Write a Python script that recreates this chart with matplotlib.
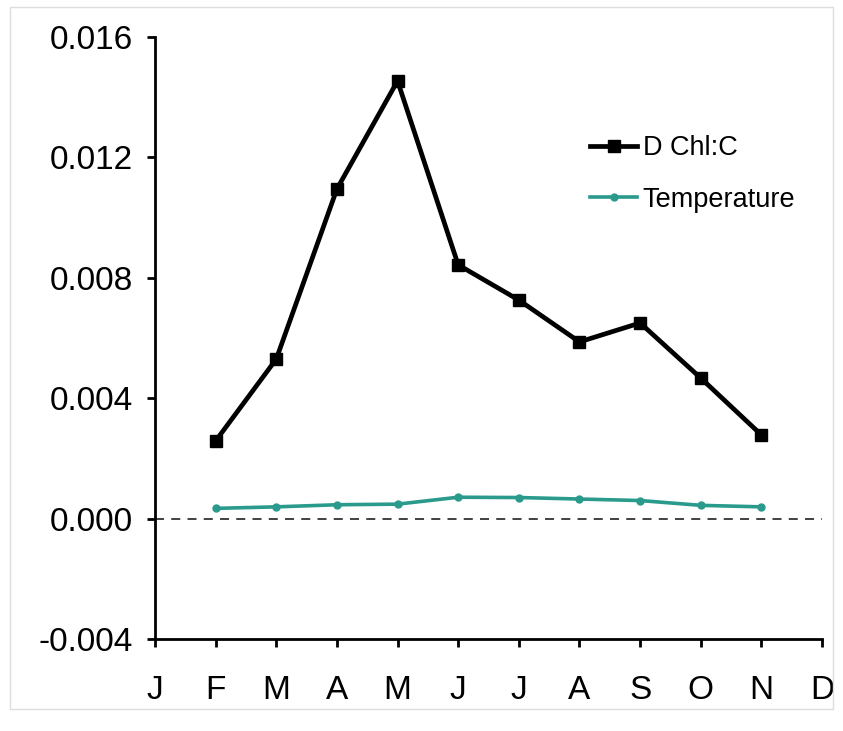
import matplotlib
matplotlib.use("Agg")
import matplotlib.pyplot as plt
from matplotlib.patches import Rectangle

months = ["J", "F", "M", "A", "M", "J", "J", "A", "S", "O", "N", "D"]
data_months = [1, 2, 3, 4, 5, 6, 7, 8, 9, 10]  # F..N
dchl_c = [0.00258, 0.0053, 0.01095, 0.01454, 0.00843, 0.00726, 0.00587, 0.0065, 0.00467, 0.00278]
temperature = [0.00034, 0.00039, 0.00046, 0.00048, 0.00071, 0.0007, 0.00065, 0.0006, 0.00044, 0.00039]
yticks = [-0.004, 0.000, 0.004, 0.008, 0.012, 0.016]

plt.rcParams['font.family'] = ['Liberation Sans', 'DejaVu Sans']

fig = plt.figure(figsize=(8.43, 7.31), dpi=100)
fig.patches.append(Rectangle((0.012, 0.03), 0.976, 0.96, transform=fig.transFigure,
                             fill=False, edgecolor='#dddddd', linewidth=1))
ax = fig.add_axes([155/843, 1-639/731, (822-155)/843, (639-37)/731])

ax.axhline(0, color='#333333', linestyle=(0, (5, 4)), linewidth=1.3, zorder=1)
ax.plot(data_months, dchl_c, color='black', linewidth=3.4, marker='s', markersize=9,
        label='D Chl:C', zorder=3)
ax.plot(data_months, temperature, color='#2A9A8C', linewidth=2.6, marker='o', markersize=5,
        label='Temperature', zorder=3)

ax.set_xlim(0, 11)
ax.set_ylim(-0.004, 0.016)
ax.set_xticks(range(12))
ax.set_xticklabels(months)
ax.set_yticks(yticks)
ax.set_yticklabels([f"{v:.3f}" for v in yticks])

for s in ['top', 'right']:
    ax.spines[s].set_visible(False)
for s in ['left', 'bottom']:
    ax.spines[s].set_linewidth(2)
ax.tick_params(axis='both', direction='out', length=6, width=2, labelsize=24, color='black')
ax.tick_params(axis='x', pad=20)
ax.tick_params(axis='y', pad=10)

leg = ax.legend(loc='upper left', bbox_to_anchor=(590/843, 1-135/731),
                bbox_transform=fig.transFigure, frameon=False, fontsize=19.5,
                borderpad=0, borderaxespad=0, labelspacing=0.95,
                handlelength=1.75, handletextpad=0.2)

fig.savefig("out.png", dpi=100, facecolor='white')
